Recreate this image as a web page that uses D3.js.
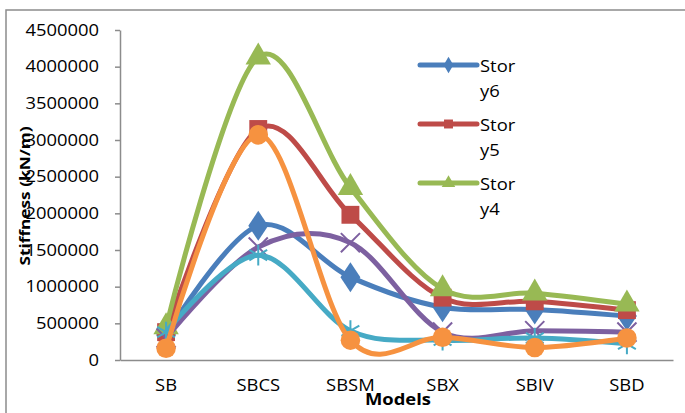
<!DOCTYPE html>
<html>
<head>
<meta charset="utf-8">
<script src="https://cdn.jsdelivr.net/npm/d3@7"></script>
<style>
  body { margin: 0; background: #fff; }
  svg { display: block; font-family: "Open Sans", sans-serif; }
</style>
</head>
<body>
<script>
// the data
var categories = ["SB", "SBCS", "SBSM", "SBX", "SBIV", "SBD"];
var seriesNames = ["Story6", "Story5", "Story4", "Story3", "Story2", "Story1"];
var story6 = [340000, 1830000, 1130000, 720000, 690000, 600000];
var story5 = [380000, 3150000, 1980000, 850000, 800000, 680000];
var story4 = [450000, 4130000, 2350000, 970000, 910000, 760000];
var story3 = [300000, 1540000, 1600000, 380000, 400000, 380000];
var story2 = [380000, 1430000, 400000, 270000, 300000, 220000];
var story1 = [160000, 3070000, 270000, 310000, 170000, 300000];
var yTicks = [0, 500000, 1000000, 1500000, 2000000, 2500000, 3000000, 3500000, 4000000, 4500000];
var legendShown = ["Story6", "Story5", "Story4"];

var allValues = [story6, story5, story4, story3, story2, story1];
var colors = ["#4a7ebb", "#be4b48", "#98b954", "#7d60a0", "#46aac5", "#f69240"];
var markers = ["diamond", "square", "triangle", "x", "star", "circle"];

// set the dimensions and margins of the graph
var W = 685, H = 413;
var margin = {top: 30, right: 12, bottom: 53, left: 120},
    width = W - margin.left - margin.right,
    height = H - margin.top - margin.bottom;
var textStretch = 1.15;

var x = d3.scaleBand().domain(categories).range([0, width]);
var y = d3.scaleLinear().domain([0, 4500000]).range([height, 0]);

var svg = d3.select("body").append("svg")
    .attr("width", W)
    .attr("height", H);

// chart frame (runs off the right and bottom edge)
svg.append("rect")
    .attr("x", 6).attr("y", 10)
    .attr("width", W + 20).attr("height", H + 20)
    .attr("fill", "none")
    .attr("stroke", "#8c8c8c")
    .attr("stroke-width", 1.5);

var g = svg.append("g")
    .attr("transform", "translate(" + margin.left + "," + margin.top + ")");

// Y axis
var yAxis = g.append("g")
    .call(d3.axisLeft(y).tickValues(yTicks).tickFormat(d3.format("d")).tickSize(5).tickSizeOuter(0));
yAxis.select(".domain").attr("stroke", "#8c8c8c").attr("stroke-width", 1.5);
yAxis.selectAll(".tick line").attr("stroke", "#8c8c8c").attr("stroke-width", 1.5);
yAxis.selectAll(".tick text")
    .attr("x", -21 / textStretch)
    .attr("transform", "scale(" + textStretch + ",1)")
    .style("font-size", "16px")
    .style("font-family", "Open Sans")
    .attr("fill", "#000");

// X axis
var xAxis = g.append("g")
    .attr("transform", "translate(0," + height + ")")
    .call(d3.axisBottom(x).tickSize(0).tickSizeOuter(0).tickPadding(20));
xAxis.select(".domain").attr("stroke", "#8c8c8c").attr("stroke-width", 1.5);
xAxis.selectAll(".tick text")
    .attr("transform", "scale(" + textStretch + ",1)")
    .style("font-size", "16px")
    .style("font-family", "Open Sans")
    .attr("fill", "#000");

// axis titles
svg.append("text")
    .attr("transform", "translate(398,405) scale(" + textStretch + ",1)")
    .attr("text-anchor", "middle")
    .style("font-size", "16px")
    .style("font-weight", "bold")
    .text("Models");

svg.append("text")
    .attr("transform", "translate(30,196) rotate(-90) scale(" + textStretch + ",1)")
    .attr("text-anchor", "middle")
    .style("font-size", "15px")
    .style("font-weight", "bold")
    .text("Stiffness (kN/m)");

function cx(c) { return x(c) + x.bandwidth() / 2; }

function symbolFor(kind, size) {
  var types = {
    diamond: d3.symbolDiamond, square: d3.symbolSquare, triangle: d3.symbolTriangle,
    x: d3.symbolX, star: d3.symbolAsterisk, circle: d3.symbolCircle
  };
  return d3.symbol().type(types[kind]).size(size)();
}
var markerSize = {diamond: 260, square: 320, triangle: 280, x: 240, star: 300, circle: 300};

var line = d3.line()
    .x(function(d) { return cx(d.cat); })
    .y(function(d) { return y(d.value); })
    .curve(d3.curveCardinal.tension(0));

// one line + markers per series, drawn in order
seriesNames.forEach(function(name, i) {
  var pts = categories.map(function(c, j) { return {cat: c, value: allValues[i][j]}; });
  var sg = g.append("g").attr("class", "series");
  sg.append("path")
      .datum(pts)
      .attr("fill", "none")
      .attr("stroke", colors[i])
      .attr("stroke-width", 5)
      .attr("stroke-linecap", "round")
      .attr("d", line);
  var stroked = markers[i] == "x" || markers[i] == "star";
  sg.selectAll(".mk")
      .data(pts)
      .enter().append("path")
      .attr("class", "mk")
      .attr("transform", function(d) {
        return "translate(" + cx(d.cat) + "," + y(d.value) + ")" + (markers[i] == "diamond" ? " scale(1.15,1)" : "");
      })
      .attr("d", symbolFor(markers[i], markerSize[markers[i]]))
      .attr("fill", stroked ? "none" : colors[i])
      .attr("stroke", colors[i])
      .attr("stroke-width", stroked ? 2 : 0);
});

// legend, only the first three entries fit
var legend = svg.append("g").attr("transform", "translate(420,65)");
legendShown.forEach(function(name, k) {
  var i = seriesNames.indexOf(name);
  var lg = legend.append("g").attr("transform", "translate(0," + (k * 59) + ")");
  lg.append("line")
      .attr("x1", 0).attr("x2", 57)
      .attr("stroke", colors[i])
      .attr("stroke-width", 5)
      .attr("stroke-linecap", "round");
  lg.append("path")
      .attr("transform", "translate(28.5,0)")
      .attr("d", symbolFor(markers[i], 80))
      .attr("fill", colors[i]);
  var t = lg.append("text")
      .attr("transform", "translate(60,7) scale(" + textStretch + ",1)")
      .style("font-size", "16px");
  t.append("tspan").attr("x", 0).attr("y", 0).text(name.slice(0, 4));
  t.append("tspan").attr("x", 0).attr("y", 25).text(name.slice(4));
});
</script>
</body>
</html>
